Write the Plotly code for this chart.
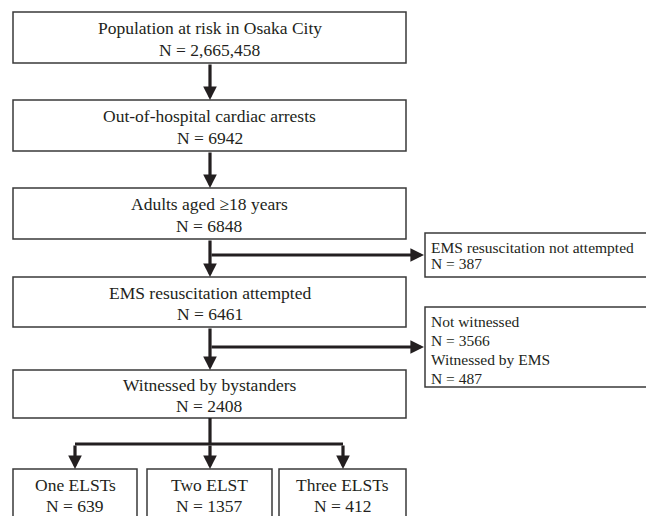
import plotly.graph_objects as go

# ---- data ----
main_labels = ["Population at risk in Osaka City", "Out-of-hospital cardiac arrests",
               "Adults aged \u226518 years", "EMS resuscitation attempted",
               "Witnessed by bystanders"]
main_n = ["2,665,458", "6942", "6848", "6461", "2408"]
side1_labels = ["EMS resuscitation not attempted"]
side1_n = ["387"]
side2_labels = ["Not witnessed", "Witnessed by EMS"]
side2_n = ["3566", "487"]
bottom_labels = ["One ELSTs", "Two ELST", "Three ELSTs"]
bottom_n = ["639", "1357", "412"]

# ---- layout geometry (page-pixel coordinates) ----
W, H = 646, 516
main_x0, main_x1 = 13, 406
main_y = [(12, 63), (100, 151), (188, 239), (277, 327), (370, 418)]
cx = 210
side_x0, side_x1 = 425, 670
side1_y = (233, 277)
side2_y = (307, 387)
side_line_y = [255, 347]
bot_x = [(13, 137), (147, 272), (279, 406)]
bot_arrow_x = [75, 210, 343]
bot_y = (469, 540)
branch_y = 444

LINE = "#231f20"
FAM = "Liberation Serif, Times New Roman, serif"
FONT_MAIN = dict(family=FAM, size=17.5, color="#231f20")
FONT_SIDE = dict(family=FAM, size=15.5, color="#231f20")

fig = go.Figure()
fig.add_trace(go.Scatter(x=[0, W], y=[0, H], mode="markers", marker=dict(opacity=0),
                         hoverinfo="skip", showlegend=False))

shapes = []
annotations = []

def box(x0, x1, y0, y1):
    shapes.append(dict(type="rect", xref="x", yref="y", x0=x0, x1=x1, y0=y0, y1=y1,
                       line=dict(color="#3a3a3a", width=1.5), fillcolor="white", layer="above"))

def text(x, y, s, font, anchor="center"):
    annotations.append(dict(x=x, y=y, xref="x", yref="y", text=s, showarrow=False,
                            xanchor=anchor, yanchor="middle", font=font))

def line(x0, y0, x1, y1):
    shapes.append(dict(type="line", xref="x", yref="y", x0=x0, y0=y0, x1=x1, y1=y1,
                       line=dict(color=LINE, width=3.2), layer="above"))

def arrow(x0, y0, x1, y1):
    annotations.append(dict(x=x1, y=y1, ax=x0, ay=y0, xref="x", yref="y", axref="x", ayref="y",
                            showarrow=True, arrowhead=2, arrowsize=0.85, arrowwidth=3.2,
                            arrowcolor=LINE, text=""))

# main boxes
for i, (lab, n) in enumerate(zip(main_labels, main_n)):
    y0, y1 = main_y[i]
    box(main_x0, main_x1, y0, y1)
    mid = (y0 + y1) / 2
    text((main_x0 + main_x1) / 2, mid - 9.5, lab, FONT_MAIN)
    text((main_x0 + main_x1) / 2, mid + 12, "N = " + n, FONT_MAIN)

# vertical arrows between main boxes
for i in range(len(main_y) - 1):
    arrow(cx, main_y[i][1], cx, main_y[i + 1][0])

# side boxes
box(side_x0, side_x1, *side1_y)
lines1 = []
for lab, n in zip(side1_labels, side1_n):
    lines1 += [lab, "N = " + n]
for k, s in enumerate(lines1):
    text(side_x0 + 4, side1_y[0] + 14 + k * 16.5, s, FONT_SIDE, anchor="left")

box(side_x0, side_x1, *side2_y)
lines2 = []
for lab, n in zip(side2_labels, side2_n):
    lines2 += [lab, "N = " + n]
for k, s in enumerate(lines2):
    text(side_x0 + 4, side2_y[0] + 14 + k * 19, s, FONT_SIDE, anchor="left")

# side arrows
for y in side_line_y:
    arrow(cx, y, side_x0 - 1, y)

# branch to bottom boxes
line(cx, main_y[-1][1], cx, branch_y)
line(bot_arrow_x[0], branch_y, bot_arrow_x[-1], branch_y)
for i, (lab, n) in enumerate(zip(bottom_labels, bottom_n)):
    arrow(bot_arrow_x[i], branch_y, bot_arrow_x[i], bot_y[0])
    x0, x1 = bot_x[i]
    box(x0, x1, *bot_y)
    text((x0 + x1) / 2, bot_y[0] + 16, lab, FONT_MAIN)
    text((x0 + x1) / 2, bot_y[0] + 37, "N = " + n, FONT_MAIN)

fig.update_layout(
    width=W, height=H, margin=dict(l=0, r=0, t=0, b=0),
    paper_bgcolor="white", plot_bgcolor="white",
    xaxis=dict(range=[0, W], visible=False, fixedrange=True),
    yaxis=dict(range=[H, 0], visible=False, fixedrange=True),
    shapes=shapes, annotations=annotations, showlegend=False,
)
fig.write_html("out.html",
               config={"displayModeBar": False},
               post_script="document.body.style.margin='0';"
                           "document.documentElement.style.overflow='hidden';")
